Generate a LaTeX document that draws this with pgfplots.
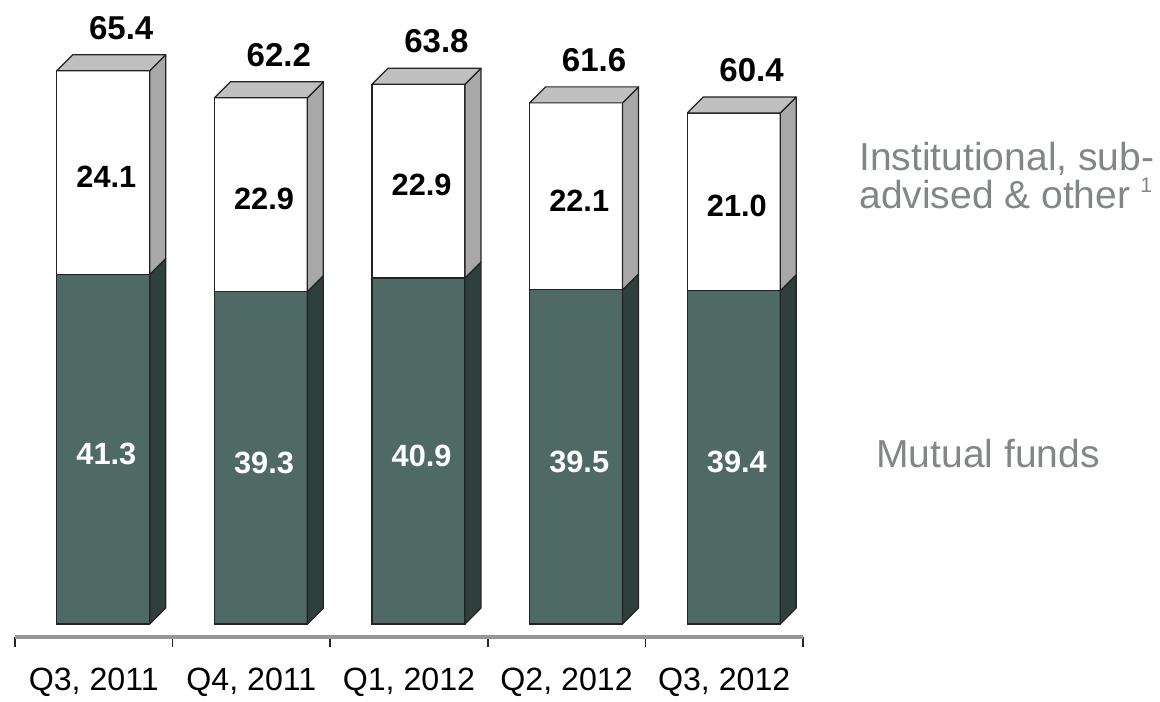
\documentclass[border=0pt]{standalone}
\usepackage{fontspec}
\setmainfont{Liberation Sans}
\usepackage{pgfplots}
\usepackage{pgfplotstable}
\pgfplotsset{compat=1.18}

\definecolor{mfgreen}{RGB}{79,106,100}
\definecolor{mfside}{RGB}{47,64,60}
\definecolor{topgray}{RGB}{192,192,192}
\definecolor{sidegray}{RGB}{168,168,168}
\definecolor{edge}{RGB}{35,35,35}
\definecolor{labelgray}{RGB}{130,135,134}
\definecolor{axisgray}{RGB}{150,150,150}

% assets, by quarter
\pgfplotstableread{
x mf inst total
0 41.3 24.1 65.4
1 39.3 22.9 62.2
2 40.9 22.9 63.8
3 39.5 22.1 61.6
4 39.4 21.0 60.4
}\aum

\begin{document}
\begin{tikzpicture}
\begin{axis}[
  scale only axis, width=15.76cm, height=12.74cm,
  xmin=-0.56, xmax=4.44, ymin=-1.537, ymax=73.76,
  clip=false,
  axis x line*=bottom, axis y line=none,
  x axis line style={-, draw=axisgray, line width=1.8pt},
  ytick=\empty,
  xtick={-0.56,0.44,1.44,2.44,3.44,4.44},
  xticklabels={{Q3, 2011},{Q4, 2011},{Q1, 2012},{Q2, 2012},{Q3, 2012},{}},
  x tick label as interval,
  xtick align=outside, major tick length=0.2cm,
  x tick style={black!85, line width=0.9pt},
  xticklabel style={anchor=base, yshift=-0.86cm, font=\fontsize{18.3}{21}\selectfont},
]
% keep the page as large as the reference
\path (axis cs:-0.655,-8.275) (axis cs:6.705,73.76);

% front faces
\addplot[ybar, bar width=0.59, bar shift=0pt, fill=white, draw=edge, line width=0.7pt]
  table[x=x, y=total]{\aum};
\addplot[ybar, bar width=0.59, bar shift=0pt, fill=mfgreen, draw=edge, line width=0.7pt]
  table[x=x, y=mf]{\aum};

% side and top faces
\pgfplotsinvokeforeach{0,...,4}{
  \pgfplotstablegetelem{#1}{mf}\of\aum \let\mfv\pgfplotsretval
  \pgfplotstablegetelem{#1}{total}\of\aum \let\tv\pgfplotsretval
  \pgfmathsetmacro\xl{#1-0.295}
  \pgfmathsetmacro\xr{#1+0.295}
  \pgfmathsetmacro\xrr{#1+0.295+0.1015}
  \pgfmathsetmacro\xlr{#1-0.295+0.1015}
  \pgfmathsetmacro\mfd{\mfv+1.89}
  \pgfmathsetmacro\td{\tv+1.89}
  \addplot[fill=mfside, draw=edge, line width=0.7pt, line join=round]
    coordinates {(\xr,0) (\xrr,1.89) (\xrr,\mfd) (\xr,\mfv) (\xr,0)};
  \addplot[fill=sidegray, draw=edge, line width=0.7pt, line join=round]
    coordinates {(\xr,\mfv) (\xrr,\mfd) (\xrr,\td) (\xr,\tv) (\xr,\mfv)};
  \addplot[fill=topgray, draw=edge, line width=0.7pt, line join=round]
    coordinates {(\xl,\tv) (\xr,\tv) (\xrr,\td) (\xlr,\td) (\xl,\tv)};
}

% value labels
\addplot[only marks, mark=*, mark size=0pt, mark options={draw=none, fill=none},
  point meta=explicit symbolic, nodes near coords, nodes near coords align={center},
  every node near coord/.append style={text=white, font=\bfseries\fontsize{17.5}{20}\selectfont}]
  table[x expr=\thisrow{x}+0.02, y expr=\thisrow{mf}/2-0.55, meta=mf]{\aum};
\addplot[only marks, mark=*, mark size=0pt, mark options={draw=none, fill=none},
  point meta=explicit symbolic, nodes near coords, nodes near coords align={center},
  every node near coord/.append style={text=black, font=\bfseries\fontsize{17.5}{20}\selectfont}]
  table[x expr=\thisrow{x}+0.02, y expr=(\thisrow{mf}+\thisrow{total})/2-0.5, meta=inst]{\aum};
\addplot[only marks, mark=*, mark size=0pt, mark options={draw=none, fill=none},
  point meta=explicit symbolic, nodes near coords, nodes near coords align={center},
  every node near coord/.append style={text=black, font=\bfseries\fontsize{18.8}{22}\selectfont}]
  table[x expr=\thisrow{x}+0.114, y expr=\thisrow{total}+5.08, meta=total]{\aum};

% series names
\node[anchor=base west, text=labelgray, font=\fontsize{22.2}{26}\selectfont, inner sep=0pt]
  at (axis cs:4.795,53.66) {Institutional, sub-};
\node[anchor=base west, text=labelgray, font=\fontsize{22.2}{26}\selectfont, inner sep=0pt]
  at (axis cs:4.795,49.17) {advised \& other};
\node[anchor=base west, text=labelgray, font=\fontsize{12}{14}\selectfont, inner sep=0pt]
  at (axis cs:6.578,51.06) {1};
\node[anchor=base west, text=labelgray, font=\fontsize{22.2}{26}\selectfont, inner sep=0pt]
  at (axis cs:4.903,18.56) {Mutual funds};
\end{axis}
\end{tikzpicture}
\end{document}
